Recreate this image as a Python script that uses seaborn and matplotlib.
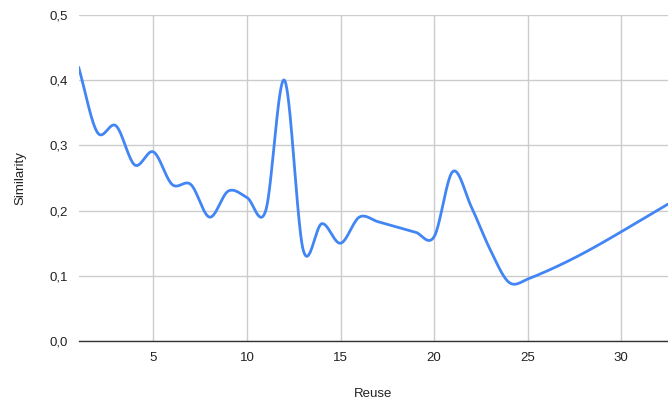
import numpy as np
import pandas as pd
import matplotlib
matplotlib.use("Agg")
import matplotlib.pyplot as plt
import seaborn as sns
from matplotlib.ticker import FuncFormatter

# Similarity per reuse count
reuse = [1, 2, 3, 4, 5, 6, 7, 8, 9, 10, 11, 12, 13, 14, 15, 16, 17, 18, 19, 20,
         21, 22, 23, 24, 25, 28, 32.5]
similarity = [0.42, 0.32, 0.33, 0.27, 0.29, 0.24, 0.24, 0.19, 0.23, 0.22, 0.20, 0.40, 0.14, 0.18, 0.15,
              0.19, 0.183, 0.175, 0.167, 0.16, 0.26, 0.205, 0.14, 0.09, 0.095, 0.135, 0.21]
y_ticks = [0.0, 0.1, 0.2, 0.3, 0.4, 0.5]
x_ticks = [5, 10, 15, 20, 25, 30]


def smooth(xs, ys, per_seg=40):
    """Cubic Hermite curve through the points (finite-difference tangents)."""
    xs = np.asarray(xs, float)
    ys = np.asarray(ys, float)
    n = len(xs)
    m = np.empty(n)
    m[0] = (ys[1] - ys[0]) / (xs[1] - xs[0])
    m[-1] = (ys[-1] - ys[-2]) / (xs[-1] - xs[-2])
    m[1:-1] = (ys[2:] - ys[:-2]) / (xs[2:] - xs[:-2])
    out_x, out_y = [], []
    for i in range(n - 1):
        h = xs[i + 1] - xs[i]
        t = np.linspace(0, 1, per_seg, endpoint=(i == n - 2))
        h00 = 2 * t**3 - 3 * t**2 + 1
        h10 = t**3 - 2 * t**2 + t
        h01 = -2 * t**3 + 3 * t**2
        h11 = t**3 - t**2
        out_x.append(xs[i] + t * h)
        out_y.append(h00 * ys[i] + h10 * h * m[i] + h01 * ys[i + 1] + h11 * h * m[i + 1])
    return np.concatenate(out_x), np.concatenate(out_y)


cx, cy = smooth(reuse, similarity)
curve = pd.DataFrame({"Reuse": cx, "Similarity": cy})

sns.set_theme(style="white")
plt.rcParams["font.family"] = ["Liberation Sans", "DejaVu Sans"]

fig = plt.figure(figsize=(6.68, 4.03), dpi=100)
ax = fig.add_axes([0.1177, 0.1538, 0.8823, 0.809])

sns.lineplot(data=curve, x="Reuse", y="Similarity", color="#4285F4", linewidth=2.0,
             sort=False, ax=ax, clip_on=True)

ax.set_xlim(1, 32.5)
ax.set_ylim(0, 0.5)
ax.set_xticks(x_ticks)
ax.set_yticks(y_ticks)
ax.yaxis.set_major_formatter(FuncFormatter(lambda v, _: f"{v:.1f}".replace(".", ",")))

ax.grid(True, color="#cccccc", linewidth=1.0)
ax.set_axisbelow(True)
for side in ["top", "right", "left"]:
    ax.spines[side].set_visible(False)
ax.spines["bottom"].set_color("#333333")
ax.spines["bottom"].set_linewidth(1.0)

ax.tick_params(axis="both", length=0, labelsize=9.5, colors="#222222", pad=8)
ax.set_xlabel("Reuse", fontsize=9.5, color="#222222", labelpad=17)
ax.set_ylabel("Similarity", fontsize=9.5, color="#222222", labelpad=16)

fig.savefig("out.png", dpi=100)
